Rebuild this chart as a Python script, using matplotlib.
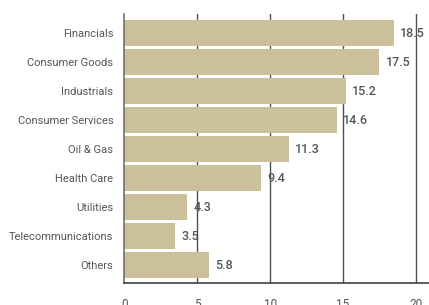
import numpy as np
import matplotlib.pyplot as plt

plt.rcParams['font.family'] = ['Roboto', 'DejaVu Sans']

sectors = ['Financials', 'Consumer Goods', 'Industrials', 'Consumer Services',
           'Oil & Gas', 'Health Care', 'Utilities', 'Telecommunications', 'Others']
weights = [18.5, 17.5, 15.2, 14.6, 11.3, 9.4, 4.3, 3.5, 5.8]
xticks = [0, 5, 10, 15, 20]

BAR = '#cbc099'
TEXT = '#555555'

fig = plt.figure(figsize=(4.29, 3.05), dpi=100)
ax = fig.add_axes([0.290, 0.072, 0.710, 0.882])

y = np.arange(len(sectors))
ax.barh(y, weights, height=0.89, color=BAR, zorder=2)

# vertical guide lines sit behind the bars but over the value labels
for xv in xticks[1:]:
    ax.axvline(xv, color='#505050', lw=1.0, zorder=1)

for yi, v in zip(y, weights):
    ax.annotate(f'{v:.1f}', (v, yi), xytext=(4.5, 0), textcoords='offset points',
                ha='left', va='center', fontsize=9, fontweight='medium',
                color=TEXT, zorder=0.5)

ax.set_xlim(0, 20.91)
ax.set_ylim(8.62, -0.655)
ax.set_yticks(y)
ax.set_yticklabels(sectors, fontsize=8, color=TEXT)
ax.set_xticks(xticks)
ax.set_xticklabels([str(t) for t in xticks], fontsize=8.5, color=TEXT)
ax.tick_params(axis='both', length=0)
ax.tick_params(axis='y', pad=8)
ax.tick_params(axis='x', pad=10.5)

for s in ['top', 'right']:
    ax.spines[s].set_visible(False)
ax.spines['left'].set_color('#707070')
ax.spines['bottom'].set_color('#404040')
ax.spines['left'].set_linewidth(1.2)
ax.spines['bottom'].set_linewidth(1.2)

fig.savefig('out.png', dpi=100)
